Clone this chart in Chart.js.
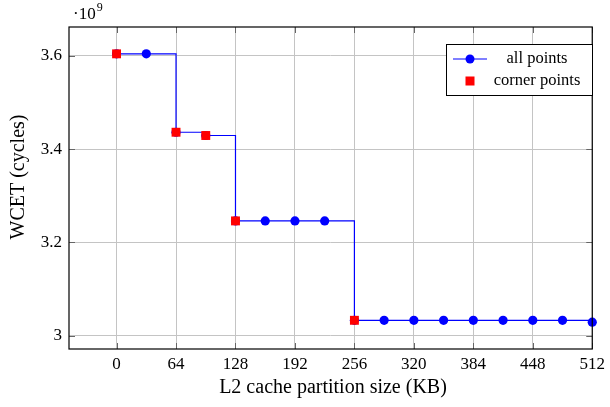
<!DOCTYPE html>
<html>
<head>
<meta charset="utf-8">
<script src="https://cdn.jsdelivr.net/npm/chart.js@4"></script>
<style>
  html, body { margin: 0; padding: 0; background: #fff; }
  #wrap { width: 610px; height: 407px; }
</style>
</head>
<body>
<div id="wrap"><canvas id="chart" width="610" height="407"></canvas></div>
<script>
const partitionSizes = [0, 32, 64, 96, 128, 160, 192, 224, 256, 288, 320, 352, 384, 416, 448, 480, 512];
const wcetAll = [3.604, 3.604, 3.436, 3.429, 3.246, 3.246, 3.246, 3.246, 3.033, 3.033, 3.033, 3.033, 3.033, 3.033, 3.033, 3.033, 3.029];
const cornerSizes = [0, 64, 96, 128, 256];
const wcetCorner = [3.604, 3.436, 3.429, 3.246, 3.033];
const xTicks = [0, 64, 128, 192, 256, 320, 384, 448, 512];
const yTicks = [3, 3.2, 3.4, 3.6];

const FONT = "'Liberation Serif', 'DejaVu Serif', serif";

// frame, inner tick marks, axis titles, exponent label and legend (pgfplots look)
const framePlugin = {
  id: 'frame',
  afterDraw(chart) {
    const ctx = chart.ctx;
    const a = chart.chartArea;
    const xs = chart.scales.x, ys = chart.scales.y;
    ctx.save();
    ctx.strokeStyle = '#666';
    ctx.lineWidth = 1;
    ctx.beginPath();
    xTicks.forEach(v => {
      const px = Math.round(xs.getPixelForValue(v)) + 0.5;
      ctx.moveTo(px, a.bottom); ctx.lineTo(px, a.bottom - 6);
      ctx.moveTo(px, a.top); ctx.lineTo(px, a.top + 6);
    });
    yTicks.forEach(v => {
      const py = Math.round(ys.getPixelForValue(v)) + 0.5;
      ctx.moveTo(a.left, py); ctx.lineTo(a.left + 6, py);
      ctx.moveTo(a.right, py); ctx.lineTo(a.right - 6, py);
    });
    ctx.stroke();

    ctx.strokeStyle = '#000';
    ctx.lineWidth = 1.2;
    ctx.strokeRect(a.left, a.top, a.right - a.left, a.bottom - a.top);

    // axis titles
    ctx.fillStyle = '#000';
    ctx.textAlign = 'center';
    ctx.textBaseline = 'middle';
    ctx.font = '20px ' + FONT;
    ctx.fillText('L2 cache partition size (KB)', 333, 388);
    ctx.save();
    ctx.translate(19, 177);
    ctx.rotate(-Math.PI / 2);
    ctx.fillText('WCET (cycles)', 0, 0);
    ctx.restore();

    // exponent
    ctx.textBaseline = 'alphabetic';
    ctx.textAlign = 'left';
    ctx.font = '17px ' + FONT;
    ctx.fillText('\u00b710', 73, 19);
    const w = ctx.measureText('\u00b710').width;
    ctx.font = '12px ' + FONT;
    ctx.fillText('9', 73 + w + 1, 11);

    // legend
    const lx = 446, ly = 44, lw = 146, lh = 51;
    ctx.fillStyle = '#fff';
    ctx.fillRect(lx, ly, lw, lh);
    ctx.strokeStyle = '#000';
    ctx.lineWidth = 1;
    ctx.strokeRect(lx + 0.5, ly + 0.5, lw, lh);
    ctx.strokeStyle = '#0000ff';
    ctx.lineWidth = 1.2;
    ctx.beginPath();
    ctx.moveTo(453, 59); ctx.lineTo(487, 59);
    ctx.stroke();
    ctx.fillStyle = '#0000ff';
    ctx.beginPath();
    ctx.arc(470, 59, 4.5, 0, Math.PI * 2);
    ctx.fill();
    ctx.fillStyle = '#ff0000';
    ctx.fillRect(465.5, 76.5, 9, 9);
    ctx.fillStyle = '#000';
    ctx.font = '16.5px ' + FONT;
    ctx.textAlign = 'center';
    ctx.textBaseline = 'middle';
    ctx.fillText('all points', 537, 59);
    ctx.fillText('corner points', 537, 81);
    ctx.restore();
  }
};

new Chart(document.getElementById('chart'), {
  type: 'line',
  data: {
    datasets: [
      {
        label: 'corner points',
        data: cornerSizes.map((x, i) => ({ x: x, y: wcetCorner[i] })),
        showLine: false,
        pointStyle: 'rect',
        pointRadius: 6.3,
        pointBackgroundColor: '#ff0000',
        pointBorderWidth: 0,
        borderColor: '#ff0000',
        clip: false,
        order: 0
      },
      {
        label: 'all points',
        data: partitionSizes.map((x, i) => ({ x: x, y: wcetAll[i] })),
        stepped: true,
        borderColor: '#0000ff',
        borderWidth: 1.2,
        pointStyle: 'circle',
        pointRadius: 4.6,
        pointBackgroundColor: '#0000ff',
        pointBorderWidth: 0,
        clip: false,
        order: 1
      }
    ]
  },
  options: {
    responsive: false,
    animation: false,
    events: [],
    layout: { padding: { top: 27, right: 12, left: 0, bottom: 0 } },
    plugins: {
      legend: { display: false },
      tooltip: { enabled: false }
    },
    scales: {
      x: {
        type: 'linear',
        min: -51.2,
        max: 512,
        afterFit(scale) { scale.height = 58; },
        afterBuildTicks(scale) { scale.ticks = xTicks.map(v => ({ value: v })); },
        grid: { color: '#c4c4c4', lineWidth: 1, drawTicks: false },
        border: { display: false },
        ticks: {
          color: '#000',
          font: { family: FONT, size: 17 },
          padding: 5,
          maxRotation: 0,
          callback: v => String(v)
        }
      },
      y: {
        type: 'linear',
        min: 2.9715,
        max: 3.6615,
        afterFit(scale) { scale.width = 69; },
        afterBuildTicks(scale) { scale.ticks = yTicks.map(v => ({ value: v })); },
        grid: { color: '#c4c4c4', lineWidth: 1, drawTicks: false },
        border: { display: false },
        ticks: {
          color: '#000',
          font: { family: FONT, size: 17 },
          padding: 7,
          callback: v => String(Math.round(v * 10) / 10)
        }
      }
    }
  },
  plugins: [framePlugin]
});
</script>
</body>
</html>
